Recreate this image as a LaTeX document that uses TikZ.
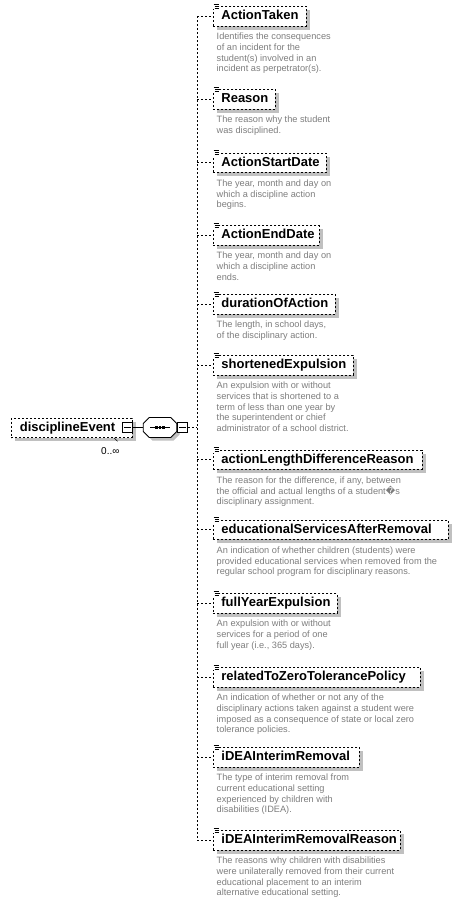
\documentclass[tikz,border=0pt]{standalone}
\usepackage{fontspec}
\setmainfont{Liberation Sans}
\newfontfamily\dejavu{DejaVu Sans}
\definecolor{shadowgray}{RGB}{192,192,192}
\definecolor{desctext}{RGB}{125,125,125}
\tikzset{
  elem/.style={draw=black, line width=0.8pt, dash pattern=on 2pt off 2pt, fill=white,
    anchor=north west, minimum height=19.5pt, inner xsep=8.5pt, inner ysep=0pt,
    text height=9.6pt, text depth=2.8pt,
    font=\fontsize{13}{15}\selectfont\bfseries},
  shadowbox/.style={fill=shadowgray},
  desc/.style={anchor=north west, inner sep=0pt, align=left, text=desctext,
    font=\fontsize{9.2}{10.7}\selectfont},
  conn/.style={draw=black, line width=0.8pt, dash pattern=on 2pt off 2pt},
  solidline/.style={draw=black, line width=0.8pt},
  sq/.style={draw=black, fill=white, line width=0.8pt, minimum size=10pt, inner sep=0pt},
  iconline/.style={draw=black, line width=0.6pt},
}
\newcommand\elbox[5]{%
  \fill[shadowbox] (216.5,{#2+4}) rectangle ({#3+4},{#2+23.5});
  \node[elem, minimum width={#3pt-212.5pt}] (#1) at (212.5,#2)
    {\makebox[\dimexpr #3pt-229.5pt\relax][l]{#4}};
  \fill[white] (213.2,{#2-2.6}) rectangle (219.2,{#2+3});
  \draw[iconline] (213.5,{#2-1.8}) -- (218.8,{#2-1.8})
                  (214.5,{#2+0.2}) -- (218.8,{#2+0.2})
                  (214.5,{#2+2.2}) -- (218.8,{#2+2.2});
  \node[desc] (#1d) at (216.5,{#2+27}) {#5};
  \draw[conn] (#1.west -| spine) -- (#1.west);
}
\begin{document}
\begin{tikzpicture}[x=1pt,y=-1pt]
\useasboundingbox (0,0) rectangle (457,906);
\coordinate (spine) at (197,427.5);

% root element
\fill[shadowbox] (15,421.7) rectangle (135.5,441.2);
\node[elem, minimum width=120.5pt] (root) at (11,417.7)
  {\makebox[\dimexpr 120.5pt-17pt\relax][l]{disciplineEvent}};
\draw[solidline, line width=0.6pt] (114,437.8) -- (117.5,441.3);
\node[sq] (rsq) at (127.5,427.5) {};
\draw[solidline] ([xshift=2pt]rsq.west) -- ([xshift=-2pt]rsq.east);
\node[anchor=west, inner sep=0pt, font=\fontsize{10}{12}\selectfont] (mult) at (101,451.5) {0..∞};

% sequence compositor
\node[minimum width=33.4pt, minimum height=20pt, inner sep=0pt] (seq) at (160,427.5) {};
\fill[shadowgray] (152.3,420.5) -- (173.7,420.5) -- (179.7,426.5) -- (179.7,434.5)
  -- (173.7,440.5) -- (152.3,440.5) -- (146.3,434.5) -- (146.3,426.5) -- cycle;
\filldraw[solidline, fill=white] (149.3,417.5) -- (170.7,417.5) -- (176.7,423.5) -- (176.7,431.5)
  -- (170.7,437.5) -- (149.3,437.5) -- (143.3,431.5) -- (143.3,423.5) -- cycle;
\draw[solidline] (150,427.5) -- (170,427.5);
\foreach \dx in {156.3,160,163.7} \fill[black] (\dx-1.3,426.2) rectangle (\dx+1.3,428.8);
\node[sq] (ssq) at (182.5,427.5) {};
\draw[solidline] ([xshift=2pt]ssq.west) -- ([xshift=-2pt]ssq.east);
\draw[solidline] (rsq.east) -- (seq.west);
\draw[conn] (ssq.east) -- (spine);

% children
\elbox{e1}{6}{306}{ActionTaken}{Identifies the consequences\\of an incident for the\\student(s) involved in an\\incident as perpetrator(s).}
\elbox{e2}{89}{275}{Reason}{The reason why the student\\was disciplined.}
\elbox{e3}{152.5}{326}{ActionStartDate}{The year, month and day on\\which a discipline action\\begins.}
\elbox{e4}{225}{318.5}{ActionEndDate}{The year, month and day on\\which a discipline action\\ends.}
\elbox{e5}{294}{335}{durationOfAction}{The length, in school days,\\of the disciplinary action.}
\elbox{e6}{355}{353}{shortenedExpulsion}{An expulsion with or without\\services that is shortened to a\\term of less than one year by\\the superintendent or chief\\administrator of a school district.}
\elbox{e7}{449.5}{421.5}{actionLengthDifferenceReason}{The reason for the difference, if any, between\\the official and actual lengths of a student{\dejavu �}s\\disciplinary assignment.}
\elbox{e8}{519.5}{448}{educationalServicesAfterRemoval}{An indication of whether children (students) were\\provided educational services when removed from the\\regular school program for disciplinary reasons.}
\elbox{e9}{593}{336.5}{fullYearExpulsion}{An expulsion with or without\\services for a period of one\\full year (i.e., 365 days).}
\elbox{e10}{667}{420}{relatedToZeroTolerancePolicy}{An indication of whether or not any of the\\disciplinary actions taken against a student were\\imposed as a consequence of state or local zero\\tolerance policies.}
\elbox{e11}{747}{359}{iDEAInterimRemoval}{The type of interim removal from\\current educational setting\\experienced by children with\\disabilities (IDEA).}
\elbox{e12}{830}{400}{iDEAInterimRemovalReason}{The reasons why children with disabilities\\were unilaterally removed from their current\\educational placement to an interim\\alternative educational setting.}

\draw[conn] (e1.west -| spine) -- (e12.west -| spine);
\end{tikzpicture}
\end{document}
